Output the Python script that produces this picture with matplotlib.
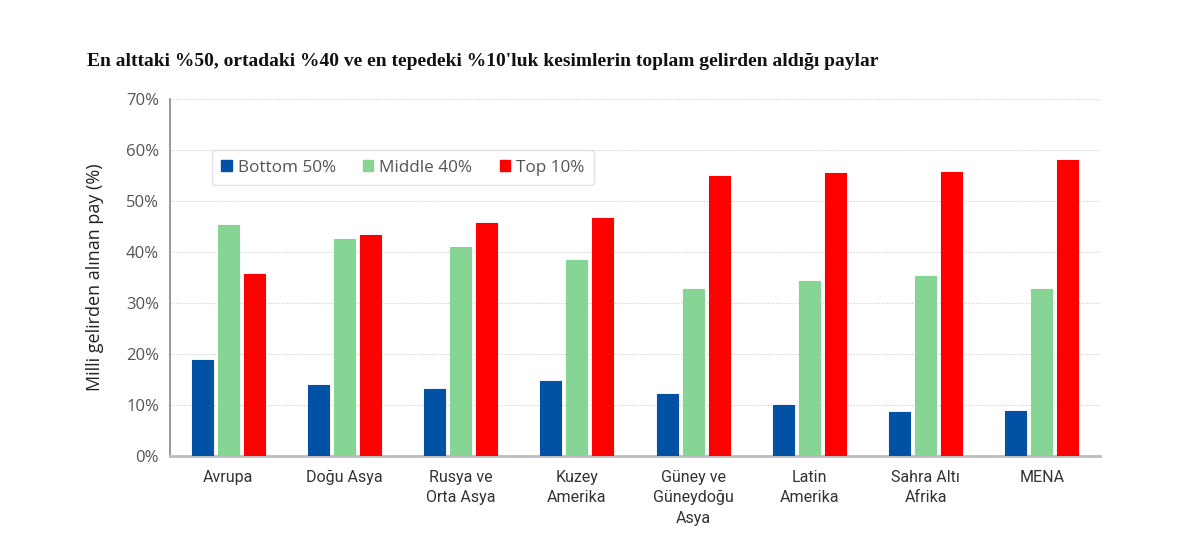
import numpy as np
import matplotlib
matplotlib.use('Agg')
import matplotlib.pyplot as plt
from matplotlib.patches import Patch

# ---- data ----
regions = ['Avrupa', 'Doğu Asya', 'Rusya ve\nOrta Asya', 'Kuzey\nAmerika',
           'Güney ve\nGüneydoğu\nAsya', 'Latin\nAmerika', 'Sahra Altı\nAfrika', 'MENA']
bottom50 = [18.8, 13.9, 13.1, 14.6, 12.2, 10.0, 8.7, 8.9]
middle40 = [45.3, 42.5, 40.9, 38.4, 32.7, 34.3, 35.3, 32.8]
top10 = [35.7, 43.3, 45.7, 46.6, 54.8, 55.4, 55.6, 58.0]
series_names = ['Bottom 50%', 'Middle 40%', 'Top 10%']
colors = ['#0152a4', '#87d594', '#ff0000']
title = "En alttaki %50, ortadaki %40 ve en tepedeki %10'luk kesimlerin toplam gelirden aldığı paylar"
ylabel = 'Milli gelirden alınan pay (%)'

fig = plt.figure(figsize=(12, 5.33), dpi=100)
ax = fig.add_axes([0.1417, 0.1445, 0.775, 0.67])

x = np.arange(len(regions))
offset = 0.224
width = 0.18
for i, (vals, c) in enumerate(zip([bottom50, middle40, top10], colors)):
    ax.bar(x + (i - 1) * offset, vals, width, color=c, zorder=3,
           edgecolor=c, linewidth=0.8, joinstyle='round')

ax.set_xlim(-0.5, len(regions) - 0.5)
ax.set_ylim(0, 70)
ax.set_yticks(range(0, 71, 10))
ax.set_yticklabels([f'{v}%' for v in range(0, 71, 10)],
                   fontsize=12, color='#555555', family='Open Sans')
ax.set_xticks(x)
ax.set_xticklabels(regions, fontsize=11.5, color='#333333', family='Roboto',
                   linespacing=1.45, va='top')
ax.tick_params(axis='both', length=0)
ax.tick_params(axis='x', pad=10)
ax.tick_params(axis='y', pad=8)

ax.grid(True, axis='y', color='#cccccc', linestyle=(0, (1, 1.5)), linewidth=0.8, zorder=0)
for s in ['top', 'right']:
    ax.spines[s].set_visible(False)
ax.spines['left'].set_color('#888888')
ax.spines['left'].set_linewidth(1.2)
ax.spines['bottom'].set_color('#bbbbbb')
ax.spines['bottom'].set_linewidth(2)

ax.set_ylabel(ylabel, fontsize=13, color='#222222', family='Open Sans', labelpad=16)

handles = [Patch(facecolor=c, edgecolor=c) for c in colors]
leg = ax.legend(handles, series_names, loc='upper left', bbox_to_anchor=(0.036, 0.88),
                ncol=3, frameon=True, fancybox=True, handlelength=0.6, handleheight=0.6,
                handletextpad=0.35, columnspacing=1.6, borderpad=0.55,
                prop={'family': 'Open Sans', 'size': 12.3})
for t in leg.get_texts():
    t.set_color('#555555')
leg.get_frame().set_edgecolor('#dddddd')
leg.get_frame().set_linewidth(1)

fig.text(0.0725, 0.885, title, fontsize=14, family='Liberation Serif', weight='bold',
         color='#111111', ha='left', va='center')

fig.savefig('out.png', dpi=100, facecolor='white')
